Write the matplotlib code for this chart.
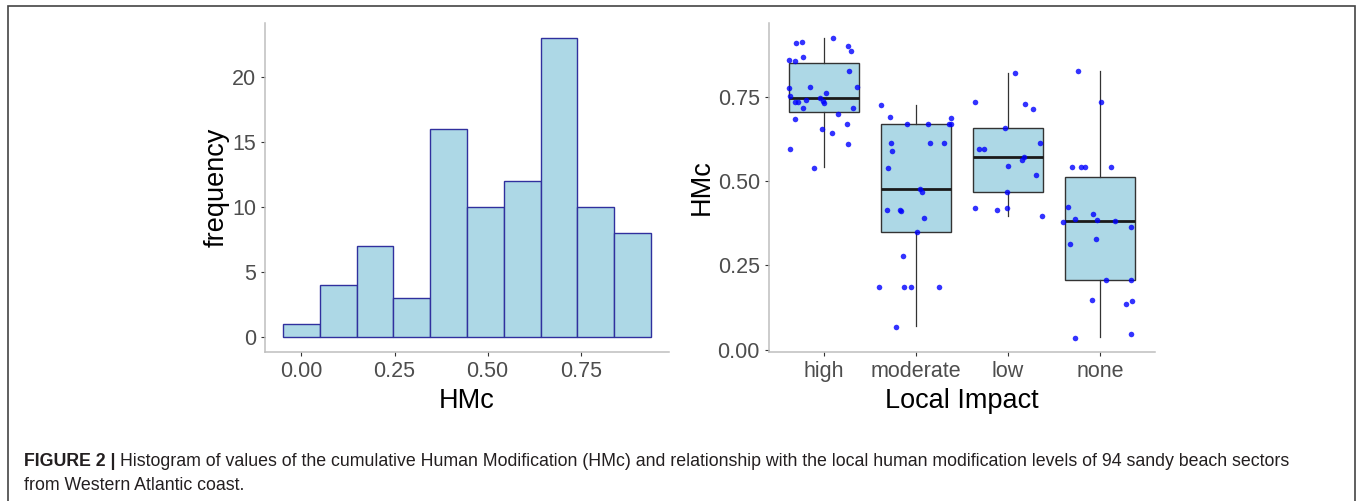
import matplotlib.pyplot as plt

# histogram of HMc
counts = [1, 4, 7, 3, 16, 10, 12, 23, 10, 8]
bin_start = -0.049
bin_width = 0.0987
hist_xticks = [0.00, 0.25, 0.50, 0.75]
hist_yticks = [0, 5, 10, 15, 20]

# boxplot by local impact
groups = ["high", "moderate", "low", "none"]
box_lo = [0.540, 0.070, 0.395, 0.037]
box_q1 = [0.704, 0.350, 0.468, 0.206]
box_med = [0.745, 0.475, 0.571, 0.380]
box_q3 = [0.849, 0.670, 0.657, 0.511]
box_hi = [0.925, 0.724, 0.819, 0.825]

# jittered points: offset from group centre, HMc value
high_jit = [0.10, -0.31, -0.245, 0.26, 0.29, -0.38, -0.32, -0.235, 0.27, -0.38,
            -0.15, 0.36, -0.37, 0.015, -0.05, -0.195, -0.32, -0.28, -0.01, 0.0,
            -0.23, 0.31, 0.15, -0.32, -0.02, 0.25, 0.087, -0.37, 0.26, -0.11]
high_val = [0.924, 0.909, 0.912, 0.900, 0.885, 0.859, 0.855, 0.866, 0.825, 0.775,
            0.777, 0.777, 0.751, 0.761, 0.747, 0.740, 0.734, 0.734, 0.738, 0.730,
            0.717, 0.717, 0.699, 0.683, 0.653, 0.670, 0.642, 0.596, 0.609, 0.538]
mod_jit = [-0.386, -0.285, -0.10, 0.134, 0.38, 0.36, 0.38, -0.27, -0.26, 0.15,
           0.307, -0.30, 0.047, 0.07, -0.32, -0.18, -0.16, 0.087, 0.01, -0.14,
           -0.40, -0.126, -0.06, 0.245, -0.22]
mod_val = [0.724, 0.690, 0.670, 0.670, 0.687, 0.670, 0.670, 0.613, 0.589, 0.613,
           0.613, 0.538, 0.475, 0.466, 0.415, 0.414, 0.412, 0.391, 0.350, 0.277,
           0.185, 0.185, 0.185, 0.185, 0.068]
low_jit = [0.08, -0.354, 0.19, 0.27, -0.03, -0.31, -0.26, 0.35, 0.18, 0.15,
           0.0, 0.31, -0.01, -0.354, -0.12, -0.01, 0.37]
low_val = [0.819, 0.734, 0.727, 0.714, 0.657, 0.596, 0.596, 0.613, 0.570, 0.563,
           0.545, 0.519, 0.468, 0.421, 0.414, 0.421, 0.396]
none_jit = [-0.235, 0.014, -0.30, -0.20, -0.16, 0.12, -0.35, -0.076, -0.27, -0.036,
            -0.40, 0.16, 0.34, -0.33, -0.047, 0.065, 0.336, -0.087, 0.285, 0.35,
            -0.27, 0.336]
none_val = [0.825, 0.734, 0.542, 0.542, 0.542, 0.542, 0.422, 0.402, 0.387, 0.384,
            0.377, 0.380, 0.363, 0.312, 0.329, 0.206, 0.206, 0.147, 0.136, 0.143,
            0.034, 0.047]
box_yticks = [0.00, 0.25, 0.50, 0.75]

plt.rcParams['font.family'] = ['Liberation Sans', 'DejaVu Sans']

W, H = 1358, 501
fig = plt.figure(figsize=(W / 100, H / 100), dpi=100)

fill = "#ADD8E6"
spine_col = "#BEBEBE"
tick_col = "#4D4D4D"


def px_axes(left, top, right, bottom):
    return fig.add_axes([left / W, 1 - bottom / H, (right - left) / W, (bottom - top) / H])


def style(ax):
    for s in ["top", "right"]:
        ax.spines[s].set_visible(False)
    for s in ["left", "bottom"]:
        ax.spines[s].set_color(spine_col)
        ax.spines[s].set_linewidth(1.1)
    ax.tick_params(colors="#333333", labelcolor=tick_col, labelsize=15.5,
                   length=3, width=0.8, pad=3.5)


# left: histogram
ax1 = px_axes(265, 23, 669, 352)
lefts = [bin_start + i * bin_width for i in range(len(counts))]
ax1.bar(lefts, counts, width=bin_width, align="edge", color=fill,
        edgecolor="#30309E", linewidth=1.0)
ax1.set_xlim(-0.098, 0.987)
ax1.set_ylim(-1.15, 24.15)
ax1.set_xticks(hist_xticks)
ax1.set_xticklabels([f"{t:.2f}" for t in hist_xticks])
ax1.set_yticks(hist_yticks)
style(ax1)
ax1.set_xlabel("HMc", fontsize=19.5, labelpad=4)
ax1.set_ylabel("frequency", fontsize=19.5)
ax1.yaxis.set_label_coords(-0.088, 0.5)

# right: boxplot + jitter
ax2 = px_axes(769, 23, 1155, 352)
stats = []
for i in range(len(groups)):
    stats.append(dict(med=box_med[i], q1=box_q1[i], q3=box_q3[i],
                      whislo=box_lo[i], whishi=box_hi[i], fliers=[]))
pos = list(range(1, len(groups) + 1))
ax2.bxp(stats, positions=pos, widths=0.755, patch_artist=True, showcaps=False,
        showfliers=False,
        boxprops=dict(facecolor=fill, edgecolor="#333333", linewidth=1.0),
        whiskerprops=dict(color="#333333", linewidth=0.9),
        medianprops=dict(color="#1A1A1A", linewidth=2.0))

for p, jit, val in zip(pos, [high_jit, mod_jit, low_jit, none_jit],
                       [high_val, mod_val, low_val, none_val]):
    ax2.scatter([p + j for j in jit], val, s=16, color="#0000FF", alpha=0.8,
                linewidths=0, zorder=5)

ax2.set_xlim(0.4, 4.6)
ax2.set_ylim(-0.007, 0.968)
ax2.set_xticks(pos)
ax2.set_xticklabels(groups)
ax2.set_yticks(box_yticks)
ax2.set_yticklabels([f"{t:.2f}" for t in box_yticks])
style(ax2)
ax2.set_xlabel("Local Impact", fontsize=19.5, labelpad=4)
ax2.set_ylabel("HMc", fontsize=19.5)
ax2.yaxis.set_label_coords(-0.14, 0.5)

# frame around the figure panel
frame = plt.Rectangle((8 / W, -0.05), (1355 - 8) / W, 1.05 - 6 / H,
                      transform=fig.transFigure, fill=False,
                      edgecolor="#444444", linewidth=1.2)
fig.patches.append(frame)

# caption
cap_font = ['Liberation Sans Narrow', 'Liberation Sans', 'DejaVu Sans']
cap_col = "#231F20"
t1 = fig.text(24 / W, 1 - 461 / H, "FIGURE 2 |", fontsize=12.75, fontweight="bold",
              family=cap_font, color=cap_col, va="center")
fig.canvas.draw()
bb = t1.get_window_extent()
fig.text((bb.x1 + 4) / W, 1 - 461 / H,
         "Histogram of values of the cumulative Human Modification (HMc) and relationship "
         "with the local human modification levels of 94 sandy beach sectors",
         fontsize=12.75, family=cap_font, color=cap_col, va="center")
fig.text(24 / W, 1 - 485 / H, "from Western Atlantic coast.", fontsize=12.75,
         family=cap_font, color=cap_col, va="center")

fig.savefig("out.png", dpi=100)
